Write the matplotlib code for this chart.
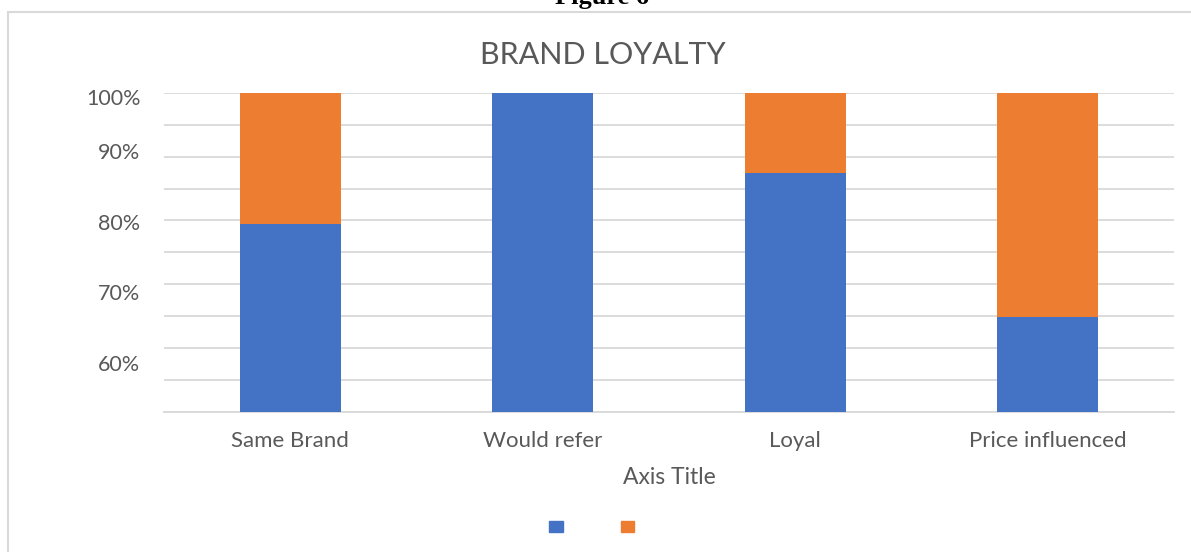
import matplotlib
matplotlib.use('Agg')
import matplotlib.pyplot as plt
from matplotlib.patches import Rectangle, Patch
import numpy as np

plt.rcParams['font.family'] = ['Lato', 'DejaVu Sans']

# data (100% stacked)
categories = ['Same Brand', 'Would refer', 'Loyal', 'Price influenced']
series_a = [79.4, 100.0, 87.4, 64.9]     # blue
series_b = [20.6, 0.0, 12.6, 35.1]       # orange
ytick_vals = [99.3, 90.9, 79.8, 68.8, 57.7]
ytick_labels = ['100%', '90%', '80%', '70%', '60%']

blue = '#4472C4'
orange = '#ED7D31'
txt = '#595959'
grid = '#D9D9D9'

fig = plt.figure(figsize=(11.91, 5.52), dpi=100)
ax = fig.add_axes([0.1377, 0.2536, 0.848, 0.5784])

x = np.arange(len(categories))
ax.bar(x, series_a, width=0.4, color=blue, zorder=3)
ax.bar(x, series_b, width=0.4, bottom=series_a, color=orange, zorder=3)

ax.set_xlim(-0.5, len(categories) - 0.5)
ax.set_ylim(50, 100)

# gridlines every 5%
ax.set_yticks(np.arange(50, 101, 5), minor=True)
ax.yaxis.grid(True, which='minor', color=grid, lw=1.3, zorder=0)
ax.set_yticks(ytick_vals)
ax.set_yticklabels(ytick_labels)
ax.tick_params(axis='y', which='both', length=0, pad=17, labelsize=15.5, labelcolor=txt)

ax.set_xticks(x)
ax.set_xticklabels(categories)
ax.tick_params(axis='x', length=0, pad=14, labelsize=16, labelcolor=txt)

for s in ['top', 'right', 'left']:
    ax.spines[s].set_visible(False)
ax.spines['bottom'].set_color(grid)
ax.spines['bottom'].set_linewidth(1.3)

ax.set_xlabel('Axis Title', fontsize=16.5, color=txt, labelpad=11)
fig.text(603 / 1191, 1 - 64 / 552, 'BRAND LOYALTY', ha='center', va='baseline',
         fontsize=22, color=txt)

# legend without series names
handles = [Patch(color=blue), Patch(color=orange)]
fig.legend(handles, [' ', ' '], loc='center', bbox_to_anchor=(0.5, 1 - 527 / 552),
           ncol=2, frameon=False, fontsize=10, handlelength=1.0, handleheight=0.8,
           handletextpad=0.3, columnspacing=3.6)

# chart border
fig.add_artist(Rectangle((8 / 1191, -0.05), 1.2, 1 - 12 / 552 + 0.05,
                         transform=fig.transFigure, fill=False, edgecolor=grid, lw=1.5))

fig.text(0.5055, 1 - 4 / 552, 'Figure 6', ha='center', va='baseline',
         family='Liberation Serif', weight='bold', fontsize=19, color='black')

fig.savefig('out.png', dpi=100)
